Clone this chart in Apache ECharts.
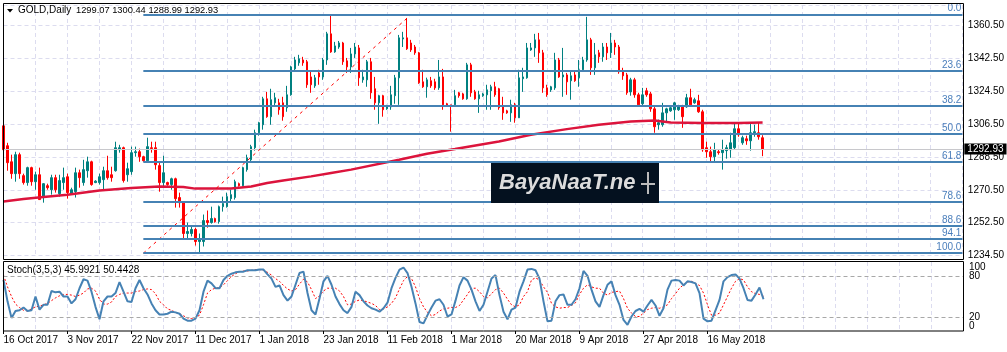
<!DOCTYPE html>
<html><head><meta charset="utf-8">
<script src="https://cdn.jsdelivr.net/npm/echarts@6/dist/echarts.min.js"></script>
<style>html,body{margin:0;padding:0;background:#fff;}#c{width:1007px;height:352px;}</style>
</head><body><div id="c"></div>
<script>
// ---- Price data (GOLD daily) ----
const opens=[1305.6,1294.7,1285.9,1279.4,1289.8,1278.3,1274.5,1282.7,1275.0,1278.8,1266.8,1272.8,1270.6,1277.2,1268.4,1274.5,1277.7,1268.4,1269.5,1279.9,1274.5,1281.0,1285.9,1274.5,1274.5,1276.1,1281.0,1278.8,1281.0,1292.5,1293.6,1278.8,1280.5,1290.9,1291.4,1288.7,1286.5,1293.6,1293.6,1283.8,1274.5,1274.5,1273.4,1276.6,1266.3,1263.5,1246.6,1246.6,1248.8,1242.2,1242.2,1253.7,1252.6,1254.8,1253.1,1261.3,1261.3,1265.7,1266.3,1273.9,1272.8,1281.6,1287.0,1293.6,1301.8,1306.2,1320.4,1310.6,1318.2,1318.2,1318.2,1315.5,1322.6,1336.8,1340.1,1341.7,1340.7,1332.4,1327.5,1334.6,1332.4,1341.7,1356.0,1346.1,1348.8,1351.0,1341.2,1337.9,1345.0,1348.3,1330.8,1330.8,1340.7,1325.9,1318.2,1322.1,1314.9,1316.0,1322.1,1331.9,1353.2,1353.8,1351.0,1348.8,1345.6,1329.7,1327.0,1330.3,1329.7,1326.4,1332.4,1317.7,1317.1,1317.1,1323.7,1323.1,1320.4,1339.0,1324.2,1320.4,1322.1,1322.6,1324.8,1327.0,1325.9,1316.0,1313.8,1312.7,1317.1,1310.0,1331.4,1331.9,1347.2,1348.3,1352.7,1345.6,1326.4,1325.3,1326.4,1341.7,1332.4,1333.5,1330.3,1333.5,1331.9,1336.3,1341.7,1352.7,1337.4,1345.6,1343.4,1348.8,1345.6,1351.0,1348.8,1335.2,1333.5,1324.2,1330.8,1322.6,1317.7,1324.8,1323.1,1314.9,1306.2,1306.2,1312.7,1313.8,1314.4,1314.4,1316.6,1316.0,1321.0,1318.2,1319.3,1313.3,1293.6,1291.4,1288.7,1291.4,1290.9,1292.0,1292.5,1293.6,1304.0,1296.3,1298.5,1297.4,1301.8,1301.8,1299.07];
const closes=[1292.5,1285.4,1279.4,1289.8,1279.4,1274.5,1282.7,1275.0,1278.8,1265.2,1273.9,1271.7,1277.2,1270.6,1275.6,1277.2,1269.0,1270.6,1279.9,1277.2,1281.6,1285.9,1273.4,1275.3,1277.7,1281.0,1277.2,1277.2,1293.6,1293.6,1275.6,1282.1,1290.9,1291.4,1288.7,1286.5,1294.2,1293.1,1284.3,1274.5,1279.9,1273.4,1276.6,1265.7,1263.5,1246.6,1247.7,1248.8,1242.2,1243.8,1253.7,1252.6,1254.8,1253.1,1261.3,1263.0,1266.8,1267.9,1275.0,1272.8,1282.7,1288.1,1294.2,1301.8,1307.3,1320.4,1310.6,1319.9,1321.0,1314.4,1310.6,1322.6,1337.9,1341.7,1342.3,1340.1,1328.1,1328.1,1331.9,1332.4,1341.7,1356.0,1346.1,1349.4,1351.0,1340.7,1337.9,1345.0,1348.8,1331.9,1332.4,1340.7,1323.7,1318.2,1322.1,1314.4,1316.0,1322.6,1331.9,1353.8,1353.8,1347.8,1347.2,1345.6,1329.2,1327.0,1330.8,1327.5,1326.4,1332.4,1317.1,1316.6,1316.6,1322.1,1322.1,1320.4,1339.0,1323.7,1320.4,1322.6,1323.1,1325.3,1327.0,1322.6,1315.5,1312.7,1312.7,1317.1,1310.0,1331.9,1332.4,1348.3,1348.3,1352.7,1345.6,1326.4,1322.6,1327.0,1341.7,1332.4,1333.5,1329.7,1333.0,1330.3,1336.3,1341.7,1352.7,1337.4,1344.5,1343.4,1348.8,1345.6,1351.0,1348.8,1335.2,1333.0,1323.7,1330.8,1322.6,1317.1,1322.6,1322.6,1314.9,1305.1,1307.3,1312.7,1314.9,1315.5,1318.2,1316.0,1310.6,1321.0,1317.1,1319.9,1313.3,1292.5,1291.4,1288.7,1292.5,1290.9,1292.5,1293.6,1296.3,1304.0,1300.7,1299.1,1297.4,1301.8,1302.4,1299.6,1292.93];
const lows=[1289.8,1281.0,1276.6,1275.0,1276.6,1273.4,1272.8,1272.8,1270.6,1265.0,1263.5,1270.6,1267.9,1269.0,1266.8,1270.6,1265.7,1267.9,1266.3,1271.7,1272.8,1277.2,1272.8,1274.2,1273.4,1270.6,1276.1,1275.0,1280.5,1290.9,1274.5,1275.0,1278.8,1288.7,1285.9,1285.9,1285.9,1290.9,1281.6,1269.5,1272.3,1272.8,1270.6,1260.8,1260.8,1243.8,1243.8,1245.0,1240.0,1236.2,1239.5,1249.8,1252.0,1252.6,1252.0,1258.6,1260.8,1264.1,1265.2,1272.3,1272.3,1280.5,1285.9,1292.0,1300.2,1303.5,1310.0,1306.2,1316.6,1311.7,1308.4,1313.3,1322.1,1335.2,1338.5,1338.5,1326.4,1323.7,1326.4,1328.1,1330.8,1339.0,1345.6,1345.6,1347.8,1339.0,1334.6,1334.6,1342.8,1327.5,1329.2,1327.0,1320.4,1314.4,1306.7,1310.6,1314.4,1314.4,1317.7,1317.1,1348.8,1347.2,1346.1,1344.5,1328.6,1326.4,1321.0,1326.4,1325.3,1325.3,1314.4,1316.0,1302.4,1316.0,1321.0,1319.9,1319.9,1321.5,1319.9,1312.7,1321.5,1314.4,1314.4,1321.5,1314.4,1308.9,1312.2,1307.8,1307.3,1310.0,1324.2,1331.4,1346.7,1343.4,1340.1,1323.7,1321.5,1324.2,1325.3,1331.9,1321.5,1322.6,1319.9,1329.7,1327.0,1335.2,1340.7,1333.5,1333.5,1340.1,1340.7,1341.7,1342.8,1344.5,1334.1,1330.8,1322.6,1322.1,1321.0,1316.0,1316.6,1321.5,1313.3,1301.8,1303.5,1305.1,1307.3,1313.3,1308.9,1313.8,1304.5,1315.5,1316.0,1317.7,1312.7,1291.4,1288.1,1285.4,1285.9,1289.8,1281.6,1287.6,1288.1,1292.5,1299.6,1295.2,1295.2,1292.0,1299.6,1298.0,1288.99];
const highs=[1307.3,1296.3,1289.8,1291.4,1290.9,1279.4,1283.2,1283.2,1280.5,1282.7,1274.2,1273.9,1278.8,1278.8,1278.8,1282.7,1279.4,1271.7,1282.7,1281.6,1287.0,1288.7,1286.5,1275.8,1279.4,1283.2,1289.2,1283.2,1296.9,1295.2,1294.2,1285.4,1294.2,1294.2,1293.1,1289.2,1299.1,1296.9,1296.9,1285.4,1289.2,1275.0,1277.2,1277.2,1269.0,1264.1,1252.6,1250.4,1249.8,1246.6,1257.0,1259.2,1261.3,1255.3,1261.9,1266.8,1269.0,1270.6,1276.1,1274.5,1283.2,1289.8,1295.2,1303.5,1307.8,1321.5,1324.2,1325.9,1323.7,1320.4,1321.5,1327.5,1338.5,1343.4,1344.5,1343.4,1341.7,1335.2,1333.5,1336.3,1342.8,1357.1,1366.4,1351.6,1352.1,1351.6,1342.8,1348.3,1351.0,1349.9,1336.3,1341.7,1342.8,1332.4,1322.6,1322.6,1317.1,1327.5,1333.5,1355.4,1357.1,1364.7,1352.7,1349.9,1346.1,1336.3,1332.0,1332.4,1331.4,1341.7,1336.8,1318.2,1317.1,1325.3,1324.2,1323.7,1340.1,1340.1,1325.3,1324.8,1323.7,1328.1,1328.1,1329.7,1326.4,1321.5,1314.4,1319.9,1318.2,1336.3,1337.4,1351.0,1351.0,1356.0,1356.5,1347.2,1328.1,1327.5,1345.6,1342.8,1348.3,1334.6,1335.2,1335.2,1341.7,1343.4,1365.3,1353.8,1351.0,1347.2,1351.0,1351.0,1356.5,1352.7,1349.9,1337.4,1334.6,1331.9,1331.9,1323.7,1326.4,1326.4,1324.2,1316.0,1309.0,1318.2,1315.5,1316.0,1318.8,1317.1,1317.1,1323.1,1325.9,1321.0,1322.6,1314.4,1296.9,1294.2,1296.3,1292.5,1298.0,1295.2,1301.8,1307.3,1307.3,1300.2,1300.2,1307.3,1306.2,1307.3,1300.44];

// moving average (read at selected bars)
const maIdx=[0,5,10,16,24,32,39,45,48,57,62,66,70,77,82,87,99,106,113,124,132,141,149,157,163,167,175,184,190];
const maVal=[1264.2,1265.5,1266.6,1267.9,1270.2,1271.6,1272.4,1272.1,1271.2,1271.2,1272.4,1274.3,1275.7,1277.9,1279.8,1281.6,1287.0,1290.3,1292.9,1297.0,1300.7,1303.8,1306.2,1308.0,1308.5,1307.4,1307.1,1307.1,1307.4];

// stochastic %K and %D
const stochK=[74,43,19,29,30,34,29,30,50,31,38,38,58,56,57,50,50,40,46,62,75,73,57,35,17,43,50,50,55,71,57,43,42,62,74,62,53,40,30,24,24,25,28,27,25,18,15,15,18,30,57,73,69,62,62,74,80,83,85,86,86,88,88,88,89,89,82,76,64,66,52,44,50,67,84,86,55,30,24,47,72,80,67,50,39,30,26,35,57,52,43,37,33,31,28,33,41,62,77,89,92,84,64,40,13,11,23,34,44,46,38,21,24,44,66,78,73,60,43,29,38,57,76,81,52,28,17,31,34,57,72,89,90,88,76,43,14,15,43,52,53,38,38,46,62,87,80,60,43,35,52,67,72,52,38,16,9,21,29,32,28,37,45,37,22,33,60,73,74,73,66,72,71,69,55,18,14,15,30,45,72,78,81,82,76,62,45,44,53,63,45.9921];
const stochD=[81,64,50,39,34,30,29,32,35,36,38,40,44,48,51,53,53,52,50,52,55,61,62,58,46,39,39,42,50,53,55,55,55,57,58,60,61,60,54,43,38,32,30,27,25,22,19,18,19,23,38,55,60,62,63,67,73,79,83,86,87,87,88,89,89,88,85,81,76,72,66,61,58,60,68,75,71,60,47,51,58,62,62,62,58,50,38,39,43,45,44,42,40,37,31,32,35,40,48,61,73,79,76,64,47,35,27,22,24,29,32,33,34,34,37,45,53,62,62,57,50,48,54,60,62,55,46,38,35,38,50,57,74,77,74,64,56,40,35,33,34,34,37,41,53,62,67,64,62,62,55,52,56,57,58,47,33,26,21,21,26,31,33,34,33,35,38,47,54,62,67,71,72,69,66,55,38,23,23,26,38,50,62,72,76,74,64,57,54,53,50.4428];

// Fibonacci retracement
const fibHigh=1366.5, fibLow=1235.8;
const fibRatios=[0.0,23.6,38.2,50.0,61.8,78.6,88.6,94.1,100.0];
const fibStartBar=35, fibEndBar=240, fibDiagEndBar=102;

// axis ticks / labels
const dateLabels=['16 Oct 2017','3 Nov 2017','22 Nov 2017','11 Dec 2017','1 Jan 2018','23 Jan 2018','11 Feb 2018','1 Mar 2018','20 Mar 2018','9 Apr 2018','27 Apr 2018','16 May 2018'];
const dateLabelBars=[0,16,32,48,64,80,96,112,128,144,160,176];
const priceMin=1234.5, priceStep=18, priceMax=1371.8;
const stochLevels=[20,80];
const stochEndLabels=[0,100];
const totalBars=241;

// ---- build ----
const cats=Array.from({length:totalBars},(_,i)=>String(i));
const labelMap={}; dateLabelBars.forEach((b,k)=>labelMap[b]=dateLabels[k]);
const candleData=opens.map((o,i)=>[o,closes[i],lows[i],highs[i]]);
const maData=new Array(opens.length).fill(null); maIdx.forEach((b,k)=>maData[b]=maVal[k]);
const last=opens.length-1;
const FONT='"Liberation Sans", Arial, sans-serif';
const gridLine={color:'#dcdcef',width:1,type:[4,3]};

const fibLines=fibRatios.map(r=>{
  const lvl=fibHigh-(fibHigh-fibLow)*r/100;
  const lab={show:true,formatter:r.toFixed(1),position:'insideEndTop',color:'#4a7ebb',fontSize:10,fontFamily:FONT,distance:[1,1]};
  return [{coord:[fibStartBar,lvl],lineStyle:{color:'#4682b4',width:2,type:'solid'},label:lab},{coord:[fibEndBar,lvl]}];
});
const diag=[{coord:[fibStartBar,fibLow],lineStyle:{color:'#ff0000',width:1,type:[3,4]},label:{show:false}},{coord:[fibDiagEndBar,fibHigh]}];
const priceLine={yAxis:closes[last],lineStyle:{color:'#c8c8cc',width:1,type:'solid'},
  label:{show:true,position:'end',formatter:closes[last].toFixed(2),color:'#fff',backgroundColor:'#000',padding:[1,3,0,3],fontSize:10,fontFamily:FONT,distance:2}};

const stochAxisLabel={margin:5.5,color:'#000',fontSize:10,fontFamily:FONT,hideOverlap:false};

const chart=echarts.init(document.getElementById('c'),null,{renderer:'canvas'});
chart.setOption({
  animation:false,
  backgroundColor:'#fff',
  grid:[{left:3.5,right:43.5,top:5,height:250.6},{left:3.5,right:43.5,top:262,height:69}],
  xAxis:[
    {type:'category',gridIndex:0,data:cats,boundaryGap:false,axisLine:{show:false},axisTick:{show:false},axisLabel:{show:false},
     splitLine:{show:true,interval:(i)=>i%8===0&&i>0,lineStyle:gridLine}},
    {type:'category',gridIndex:1,data:cats,boundaryGap:false,axisLine:{show:false},
     axisTick:{show:true,interval:(i)=>labelMap[i]!==undefined,length:3,lineStyle:{color:'#000'}},
     axisLabel:{show:true,interval:(i)=>labelMap[i]!==undefined,formatter:(v,i)=>labelMap[i]||'',align:'left',margin:4,color:'#000',fontSize:10,fontFamily:FONT},
     splitLine:{show:true,interval:(i)=>i%8===0&&i>0,lineStyle:gridLine}}
  ],
  yAxis:[
    {type:'value',gridIndex:0,position:'right',min:priceMin,max:priceMax,interval:priceStep,
     axisLine:{show:false},axisTick:{show:false},
     axisLabel:{formatter:(v)=>v.toFixed(2),showMaxLabel:false,margin:5.5,color:'#000',fontSize:10,fontFamily:FONT},
     splitLine:{show:true,lineStyle:gridLine}},
    {type:'value',gridIndex:1,position:'right',min:0,max:100,interval:20,
     axisLine:{show:false},axisTick:{show:false},splitLine:{show:false},
     axisLabel:Object.assign({formatter:(v)=>stochLevels.indexOf(v)>=0?String(v):'',showMinLabel:false,showMaxLabel:false},stochAxisLabel)},
    {type:'value',gridIndex:1,position:'right',offset:0,min:0,max:100,interval:100,
     axisLine:{show:false},axisTick:{show:false},splitLine:{show:false},
     axisLabel:Object.assign({formatter:(v)=>stochEndLabels.indexOf(v)>=0?String(v):'',showMinLabel:true,showMaxLabel:true,
       verticalAlignMaxLabel:'top',verticalAlignMinLabel:'bottom'},stochAxisLabel)}
  ],
  series:[
    {type:'candlestick',xAxisIndex:0,yAxisIndex:0,data:candleData,barWidth:2,clip:false,
     itemStyle:{color:'#008080',color0:'#ff0000',borderColor:'#008080',borderColor0:'#ff0000',borderWidth:1},
     markLine:{silent:true,symbol:['none','none'],animation:false,data:[priceLine,diag].concat(fibLines)}},
    {type:'line',xAxisIndex:0,yAxisIndex:0,data:maData,connectNulls:true,symbol:'none',lineStyle:{color:'#dc143c',width:2.5},z:3},
    {type:'line',xAxisIndex:1,yAxisIndex:1,data:stochK,symbol:'none',lineStyle:{color:'#4682b4',width:2},z:4,
     markLine:{silent:true,symbol:['none','none'],label:{show:false},lineStyle:{color:'#a8a8a8',width:1,type:[4,3]},data:stochLevels.map(v=>({yAxis:v}))}},
    {type:'line',xAxisIndex:1,yAxisIndex:1,data:stochD,symbol:'none',lineStyle:{color:'#ff0000',width:1,type:[2,2]},z:3}
  ],
  graphic:[
    {type:'rect',silent:true,z:100,shape:{x:3.5,y:3.5,width:960,height:256},style:{fill:'none',stroke:'#000',lineWidth:1}},
    {type:'rect',silent:true,z:100,shape:{x:3.5,y:261.5,width:960,height:69.5},style:{fill:'none',stroke:'#000',lineWidth:1}},
    {type:'polygon',silent:true,z:100,shape:{points:[[7,9],[13,9],[10,12.5]]},style:{fill:'#000'}},
    {type:'text',silent:true,z:100,x:18,y:10.5,style:{text:'GOLD,Daily',font:'10px '+FONT,fill:'#000',verticalAlign:'middle'}},
    {type:'text',silent:true,z:100,x:76,y:10.5,style:{text:[opens[last],highs[last],lows[last],closes[last]].map(v=>v.toFixed(2)).join(' '),font:'9.3px '+FONT,fill:'#000',verticalAlign:'middle'}},
    {type:'text',silent:true,z:100,x:7,y:270,style:{text:'Stoch(3,5,3) '+stochK[last].toFixed(4)+' '+stochD[last].toFixed(4),font:'10px '+FONT,fill:'#000',verticalAlign:'middle'}},
    {type:'rect',silent:true,z:90,shape:{x:491,y:163,width:168,height:40},style:{fill:'#04111f'}},
    {type:'text',silent:true,z:91,x:499,y:183,style:{text:'BayaNaaT.ne',font:'italic bold 22px '+FONT,fill:'#dcdcdc',verticalAlign:'middle'}},
    {type:'line',silent:true,z:91,shape:{x1:648,y1:172,x2:648,y2:194},style:{stroke:'#bbbbbb',lineWidth:2}},
    {type:'line',silent:true,z:91,shape:{x1:641,y1:184,x2:655,y2:184},style:{stroke:'#bbbbbb',lineWidth:2}}
  ]
});
</script></body></html>
